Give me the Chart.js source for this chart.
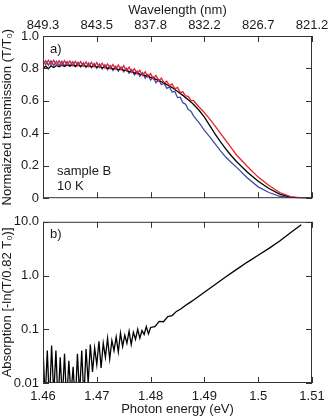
<!DOCTYPE html>
<html>
<head>
<meta charset="utf-8">
<script src="https://cdn.jsdelivr.net/npm/chart.js@4.4.0/dist/chart.umd.min.js"></script>
<style>
  html, body { margin: 0; padding: 0; background: #fff; }
  #wrap { position: relative; width: 332px; height: 419px; }
  canvas { position: absolute; left: 0; }
  #topChart { top: 0; }
  #botChart { top: 210px; }
</style>
</head>
<body>
<div id="wrap">
  <canvas id="topChart" width="332" height="210"></canvas>
  <canvas id="botChart" width="332" height="209"></canvas>
</div>
<script>
// ---- data ----
const energyTicks = [1.46, 1.47, 1.48, 1.49, 1.5, 1.51];
const energyLabels = ['1.46', '1.47', '1.48', '1.49', '1.5', '1.51'];
const waveLabels = ['849.3', '843.5', '837.8', '832.2', '826.7', '821.2'];
const transTicks = [0, 0.2, 0.4, 0.6, 0.8, 1.0];
const transLabels = ['0', '0.2', '0.4', '0.6', '0.8', '1.0'];
const absTicks = [0.01, 0.1, 1, 10];
const absLabels = ['0.01', '0.1', '1.0', '10.0'];

// panel a) photon energies (eV)
const energyTop = [
  1.4600, 1.4605, 1.4610, 1.4615, 1.4620, 1.4625, 1.4630, 1.4635, 1.4640, 1.4645,
  1.4650, 1.4655, 1.4660, 1.4665, 1.4670, 1.4675, 1.4680, 1.4685, 1.4690, 1.4695,
  1.4700, 1.4705, 1.4710, 1.4715, 1.4720, 1.4725, 1.4730, 1.4735, 1.4740, 1.4745,
  1.4750, 1.4755, 1.4760, 1.4765, 1.4770, 1.4775, 1.4780, 1.4785, 1.4790, 1.4795,
  1.4800, 1.4805, 1.4810, 1.4815, 1.4820, 1.4825, 1.4830, 1.4835, 1.4840, 1.4845,
  1.4850, 1.4855, 1.4860, 1.4865, 1.4870, 1.4875, 1.4880,
  1.489, 1.490, 1.491, 1.492, 1.493, 1.494, 1.495, 1.496,
  1.498, 1.500, 1.502, 1.504, 1.506, 1.508, 1.510
];
const transRed = [
  0.852, 0.823, 0.851, 0.822, 0.850, 0.821, 0.848, 0.820, 0.847, 0.819,
  0.846, 0.817, 0.844, 0.815, 0.842, 0.813, 0.840, 0.811, 0.838, 0.809,
  0.836, 0.806, 0.832, 0.802, 0.828, 0.798, 0.824, 0.795, 0.821, 0.791,
  0.817, 0.784, 0.808, 0.775, 0.798, 0.766, 0.789, 0.756, 0.779, 0.746,
  0.769, 0.735, 0.757, 0.722, 0.740, 0.711, 0.722, 0.694, 0.705, 0.674,
  0.683, 0.651, 0.656, 0.630, 0.628, 0.603, 0.601,
  0.562, 0.528, 0.487, 0.445, 0.400, 0.355, 0.310, 0.265,
  0.195, 0.130, 0.078, 0.035, 0.010, 0.002, 0.0
];
const transBlack = [
  0.800, 0.814, 0.798, 0.816, 0.806, 0.818, 0.810, 0.820, 0.812, 0.822,
  0.815, 0.822, 0.814, 0.821, 0.813, 0.820, 0.812, 0.818, 0.810, 0.817,
  0.808, 0.813, 0.804, 0.809, 0.800, 0.805, 0.796, 0.801, 0.792, 0.797,
  0.788, 0.789, 0.780, 0.781, 0.772, 0.773, 0.765, 0.764, 0.755, 0.754,
  0.745, 0.742, 0.732, 0.728, 0.718, 0.711, 0.700, 0.692, 0.682, 0.670,
  0.658, 0.646, 0.634, 0.620, 0.607, 0.593, 0.578,
  0.542, 0.500, 0.448, 0.395, 0.347, 0.302, 0.262, 0.225,
  0.160, 0.105, 0.060, 0.025, 0.006, 0.0, 0.0
];
const transBlue = [
  0.821, 0.848, 0.820, 0.847, 0.818, 0.845, 0.817, 0.844, 0.815, 0.843,
  0.814, 0.841, 0.811, 0.838, 0.809, 0.835, 0.806, 0.833, 0.804, 0.830,
  0.801, 0.827, 0.797, 0.822, 0.792, 0.818, 0.788, 0.814, 0.783, 0.809,
  0.779, 0.802, 0.770, 0.793, 0.760, 0.784, 0.751, 0.773, 0.740, 0.762,
  0.728, 0.748, 0.712, 0.732, 0.700, 0.709, 0.677, 0.686, 0.655, 0.658,
  0.620, 0.623, 0.589, 0.580, 0.547, 0.537, 0.506,
  0.466, 0.418, 0.378, 0.335, 0.292, 0.252, 0.220, 0.190,
  0.125, 0.070, 0.035, 0.012, 0.003, 0.0, 0.0
];

// panel b) photon energies (eV) and absorption
const energyBot = [
  1.4600, 1.4604, 1.4608, 1.4612, 1.4616, 1.4620, 1.4624, 1.4628, 1.4632, 1.4636,
  1.4640, 1.4644, 1.4648, 1.4652, 1.4656, 1.4660, 1.4664, 1.4668, 1.4672, 1.4676,
  1.4680, 1.4684, 1.4688, 1.4692, 1.4696, 1.4700, 1.4704, 1.4708, 1.4712, 1.4716,
  1.4720, 1.4724, 1.4728, 1.4732, 1.4736, 1.4740, 1.4744, 1.4748, 1.4752, 1.4756,
  1.4760, 1.4764, 1.4768, 1.4772, 1.4776, 1.4780, 1.4784, 1.4788, 1.4792, 1.4796,
  1.4800,
  1.4808, 1.4816, 1.4824, 1.4832, 1.4840, 1.4848, 1.4856, 1.4864, 1.4872, 1.4880,
  1.490, 1.492, 1.494, 1.496, 1.498, 1.500, 1.502, 1.504, 1.506, 1.508
];
const absorption = [
  0.045, 0.005, 0.040, 0.004, 0.050, 0.006, 0.040, 0.004, 0.030, 0.005,
  0.035, 0.004, 0.026, 0.006, 0.020, 0.004, 0.035, 0.006, 0.040, 0.005,
  0.043, 0.010, 0.052, 0.016, 0.045, 0.022, 0.060, 0.019, 0.055, 0.030,
  0.068, 0.028, 0.062, 0.040, 0.072, 0.038, 0.085, 0.048, 0.078, 0.055,
  0.092, 0.052, 0.088, 0.065, 0.100, 0.068, 0.095, 0.080, 0.112, 0.082,
  0.108,
  0.112, 0.140, 0.138, 0.172, 0.180, 0.215, 0.238, 0.275, 0.310, 0.350,
  0.490, 0.680, 0.950, 1.30, 1.78, 2.38, 3.20, 4.40, 6.25, 8.80
];

// ---- drawing ----
Chart.defaults.font.family = '"Liberation Sans", Arial, sans-serif';
Chart.defaults.font.size = 13;
Chart.defaults.color = '#1a1a1a';

const toPoints = (xs, ys) => xs.map((x, i) => ({ x: x, y: ys[i] }));

// frame box, inward ticks on all four sides, and panel notes
const frameTicks = {
  id: 'frameTicks',
  afterDraw(chart, args, opts) {
    const { ctx, chartArea: a, scales } = chart;
    const len = 6;
    ctx.save();
    ctx.strokeStyle = '#333';
    ctx.lineWidth = 1;
    ctx.strokeRect(a.left + 0.5, a.top + 0.5, a.right - a.left - 1, a.bottom - a.top - 1);
    ctx.beginPath();
    scales.x.ticks.forEach(t => {
      const px = Math.round(scales.x.getPixelForValue(t.value)) + 0.5;
      ctx.moveTo(px, a.bottom); ctx.lineTo(px, a.bottom - len);
      ctx.moveTo(px, a.top); ctx.lineTo(px, a.top + len);
    });
    scales.y.ticks.forEach(t => {
      const py = Math.round(scales.y.getPixelForValue(t.value)) + 0.5;
      ctx.moveTo(a.left, py); ctx.lineTo(a.left + len, py);
      ctx.moveTo(a.right, py); ctx.lineTo(a.right - len, py);
    });
    ctx.stroke();

    ctx.fillStyle = '#1a1a1a';
    ctx.font = '13px "Liberation Sans", Arial, sans-serif';
    ctx.textBaseline = 'middle';
    ctx.textAlign = 'left';
    (opts.notes || []).forEach(n => {
      const y = n.fromBottom ? a.bottom - n.dy : a.top + n.dy;
      ctx.fillText(n.text, a.left + n.dx, y);
    });
    ctx.restore();
  }
};

const fixWidth = w => scale => { scale.width = w; };
const fixHeight = h => scale => { scale.height = h; };
const setTicks = values => scale => { scale.ticks = values.map(v => ({ value: v })); };

new Chart(document.getElementById('topChart'), {
  type: 'line',
  data: {
    datasets: [
      { data: toPoints(energyTop, transRed), borderColor: '#e8212b', borderWidth: 1.3 },
      { data: toPoints(energyTop, transBlack), borderColor: '#000000', borderWidth: 1.3 },
      { data: toPoints(energyTop, transBlue), borderColor: '#3a4ea4', borderWidth: 1.3 }
    ]
  },
  options: {
    responsive: false,
    animation: false,
    layout: { padding: { left: 0, right: 20, top: 0, bottom: 0 } },
    elements: { point: { radius: 0 }, line: { tension: 0 } },
    plugins: {
      legend: { display: false },
      tooltip: { enabled: false },
      frameTicks: {
        notes: [
          { text: 'a)', dx: 7, dy: 13 },
          { text: 'sample B', dx: 14, dy: 27, fromBottom: true },
          { text: '10 K', dx: 14, dy: 12, fromBottom: true }
        ]
      }
    },
    scales: {
      x: {
        type: 'linear', position: 'bottom', min: 1.46, max: 1.51,
        afterBuildTicks: setTicks(energyTicks),
        afterFit: fixHeight(6),
        grid: { display: false, drawTicks: false },
        border: { display: false },
        ticks: { display: false }
      },
      xTop: {
        type: 'linear', axis: 'x', position: 'top', min: 1.46, max: 1.51,
        afterBuildTicks: setTicks(energyTicks),
        afterFit: fixHeight(36),
        grid: { display: false, drawTicks: false },
        border: { display: false },
        ticks: { padding: 3, maxRotation: 0, callback: (v, i) => waveLabels[i] },
        title: { display: true, text: 'Wavelength (nm)', padding: { top: 3, bottom: 0 } }
      },
      y: {
        type: 'linear', min: 0, max: 1,
        afterBuildTicks: setTicks(transTicks),
        afterFit: fixWidth(43),
        grid: { display: false, drawTicks: false },
        border: { display: false },
        ticks: { padding: 4, callback: (v, i) => transLabels[i] },
        title: { display: true, text: 'Normaized transmission (T/T\u2080)', padding: { top: 0, bottom: 0 } }
      }
    }
  },
  plugins: [frameTicks]
});

new Chart(document.getElementById('botChart'), {
  type: 'line',
  data: {
    datasets: [
      { data: toPoints(energyBot, absorption), borderColor: '#000000', borderWidth: 1.3 }
    ]
  },
  options: {
    responsive: false,
    animation: false,
    layout: { padding: { left: 0, right: 20, top: 8, bottom: 0 } },
    elements: { point: { radius: 0 }, line: { tension: 0 } },
    plugins: {
      legend: { display: false },
      tooltip: { enabled: false },
      frameTicks: { notes: [{ text: 'b)', dx: 7, dy: 13 }] }
    },
    scales: {
      x: {
        type: 'linear', position: 'bottom', min: 1.46, max: 1.51,
        afterBuildTicks: setTicks(energyTicks),
        afterFit: fixHeight(36),
        grid: { display: false, drawTicks: false },
        border: { display: false },
        ticks: { padding: 6, maxRotation: 0, callback: (v, i) => energyLabels[i] },
        title: { display: true, text: 'Photon energy (eV)', padding: { top: 0, bottom: 2 } }
      },
      y: {
        type: 'logarithmic', min: 0.01, max: 10,
        afterBuildTicks: setTicks(absTicks),
        afterFit: fixWidth(43),
        grid: { display: false, drawTicks: false },
        border: { display: false },
        ticks: { padding: 4, callback: (v, i) => absLabels[i] },
        title: { display: true, text: 'Absorption [-ln(T/0.82 T\u2080)]', padding: { top: 0, bottom: 0 } }
      }
    }
  },
  plugins: [frameTicks]
});
</script>
</body>
</html>
